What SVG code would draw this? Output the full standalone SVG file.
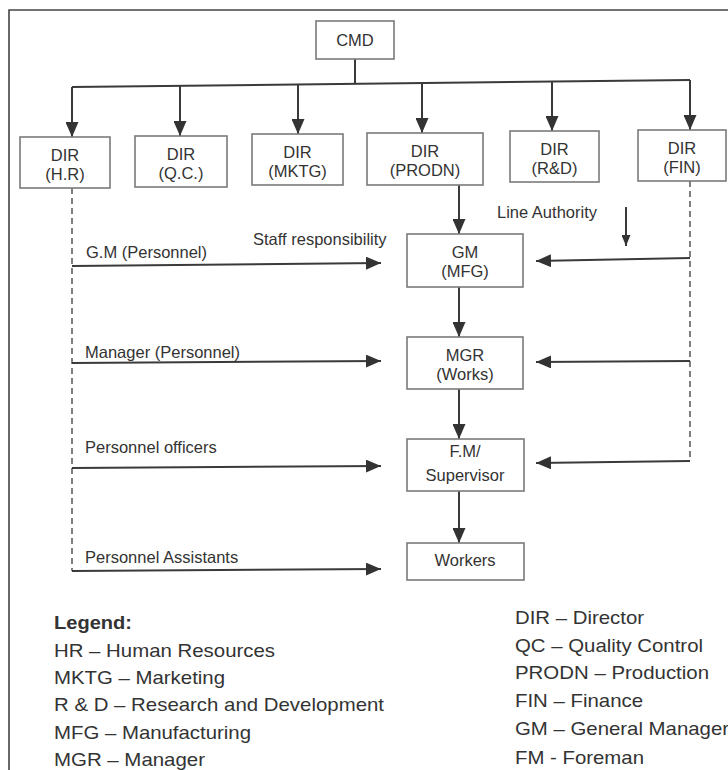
<svg xmlns="http://www.w3.org/2000/svg" width="728" height="770" viewBox="0 0 728 770">
  <style>
    .box { fill: #ffffff; stroke: #7a7a7a; stroke-width: 1.6; }
    .t { font-family: "Liberation Sans", Arial, sans-serif; font-size: 16.5px; fill: #333333; text-anchor: middle; }
    .lbl { font-family: "Liberation Sans", Arial, sans-serif; font-size: 16.5px; fill: #333333; }
    .leg { font-family: "Liberation Sans", Arial, sans-serif; font-size: 18.5px; fill: #333333; }
    .ln { fill: none; stroke: #3a3a3a; stroke-width: 2; }
    .dash { fill: none; stroke: #555555; stroke-width: 1.5; stroke-dasharray: 6 4; }
    .frame { fill: none; stroke: #444444; stroke-width: 1.6; }
  </style>
  <defs>
    <marker id="ah" markerUnits="userSpaceOnUse" markerWidth="15" markerHeight="13" refX="15" refY="6.5" orient="auto">
      <path d="M0,0 L15,6.5 L0,13 z" fill="#333333"/>
    </marker>
    <marker id="ahs" markerUnits="userSpaceOnUse" markerWidth="11" markerHeight="9" refX="11" refY="4.5" orient="auto">
      <path d="M0,0 L11,4.5 L0,9 z" fill="#333333"/>
    </marker>
  </defs>
  <rect width="728" height="770" fill="#ffffff"/>
  <path class="frame" d="M9,770 V10 H728"/>

  <g id="connectors">
    <path class="ln" d="M355,59 V84"/>
    <path class="ln" d="M72,87 L690,80"/>
    <path class="ln" d="M72,87 V137" marker-end="url(#ah)"/>
    <path class="ln" d="M180,86 V136" marker-end="url(#ah)"/>
    <path class="ln" d="M298,85 V134" marker-end="url(#ah)"/>
    <path class="ln" d="M422,83 V133" marker-end="url(#ah)"/>
    <path class="ln" d="M552,82 V131" marker-end="url(#ah)"/>
    <path class="ln" d="M690,80 V130" marker-end="url(#ah)"/>

    <path class="ln" d="M459,185 V234" marker-end="url(#ah)"/>
    <path class="ln" d="M459,287 V337" marker-end="url(#ah)"/>
    <path class="ln" d="M459,389 V439" marker-end="url(#ah)"/>
    <path class="ln" d="M459,491 V543" marker-end="url(#ah)"/>

    <path class="dash" d="M72,188 V571"/>
    <path class="dash" d="M690,181 V461"/>

    <path class="ln" d="M72,266 L381,263" marker-end="url(#ah)"/>
    <path class="ln" d="M72,363 L381,361" marker-end="url(#ah)"/>
    <path class="ln" d="M72,468 L381,466" marker-end="url(#ah)"/>
    <path class="ln" d="M72,571 L381,569" marker-end="url(#ah)"/>

    <path class="ln" d="M690,258 L536,261" marker-end="url(#ah)"/>
    <path class="ln" d="M690,361 L536,362" marker-end="url(#ah)"/>
    <path class="ln" d="M690,461 L536,463" marker-end="url(#ah)"/>

    <path class="ln" d="M626,207 V246" stroke-width="1.6" marker-end="url(#ahs)"/>
  </g>

  <g id="cmd">
    <rect class="box" x="316" y="21" width="78" height="38"/>
    <text class="t" x="355" y="46" font-size="14">CMD</text>
  </g>
  <g id="dir-hr">
    <rect class="box" x="20" y="137" width="90" height="51"/>
    <text class="t" x="65" y="161">DIR</text>
    <text class="t" x="65" y="180">(H.R)</text>
  </g>
  <g id="dir-qc">
    <rect class="box" x="135" y="136" width="92" height="51"/>
    <text class="t" x="181" y="160">DIR</text>
    <text class="t" x="181" y="179">(Q.C.)</text>
  </g>
  <g id="dir-mktg">
    <rect class="box" x="252" y="134" width="91" height="51"/>
    <text class="t" x="297.5" y="158">DIR</text>
    <text class="t" x="297.5" y="177">(MKTG)</text>
  </g>
  <g id="dir-prodn">
    <rect class="box" x="367" y="133" width="116" height="52"/>
    <text class="t" x="425" y="157">DIR</text>
    <text class="t" x="425" y="176">(PRODN)</text>
  </g>
  <g id="dir-rd">
    <rect class="box" x="510" y="131" width="89" height="51"/>
    <text class="t" x="554.5" y="155">DIR</text>
    <text class="t" x="554.5" y="174">(R&amp;D)</text>
  </g>
  <g id="dir-fin">
    <rect class="box" x="638" y="130" width="88" height="51"/>
    <text class="t" x="682" y="154">DIR</text>
    <text class="t" x="682" y="173">(FIN)</text>
  </g>
  <g id="gm">
    <rect class="box" x="407" y="234" width="116" height="53"/>
    <text class="t" x="465" y="258">GM</text>
    <text class="t" x="465" y="277">(MFG)</text>
  </g>
  <g id="mgr">
    <rect class="box" x="407" y="337" width="116" height="52"/>
    <text class="t" x="465" y="361">MGR</text>
    <text class="t" x="465" y="380">(Works)</text>
  </g>
  <g id="fm">
    <rect class="box" x="407" y="439" width="117" height="52"/>
    <text class="t" x="465" y="457">F.M/</text>
    <text class="t" x="465" y="481">Supervisor</text>
  </g>
  <g id="workers">
    <rect class="box" x="407" y="543" width="117" height="37"/>
    <text class="t" x="465" y="566">Workers</text>
  </g>

  <g id="labels">
    <text class="lbl" x="86" y="258">G.M (Personnel)</text>
    <text class="lbl" x="253" y="245">Staff responsibility</text>
    <text class="lbl" x="497" y="218">Line Authority</text>
    <text class="lbl" x="85" y="358">Manager (Personnel)</text>
    <text class="lbl" x="85" y="453">Personnel officers</text>
    <text class="lbl" x="85" y="563">Personnel Assistants</text>
  </g>

  <g id="legend">
    <text class="leg" x="54" y="629" font-weight="bold" textLength="78" lengthAdjust="spacingAndGlyphs">Legend:</text>
    <text class="leg" x="54" y="657" textLength="221" lengthAdjust="spacingAndGlyphs">HR – Human Resources</text>
    <text class="leg" x="54" y="684" textLength="171" lengthAdjust="spacingAndGlyphs">MKTG – Marketing</text>
    <text class="leg" x="54" y="711" textLength="330" lengthAdjust="spacingAndGlyphs">R &amp; D – Research and Development</text>
    <text class="leg" x="54" y="739" textLength="197" lengthAdjust="spacingAndGlyphs">MFG – Manufacturing</text>
    <text class="leg" x="54" y="766" textLength="151" lengthAdjust="spacingAndGlyphs">MGR – Manager</text>
    <text class="leg" x="515" y="624" textLength="129" lengthAdjust="spacingAndGlyphs">DIR – Director</text>
    <text class="leg" x="515" y="652" textLength="188" lengthAdjust="spacingAndGlyphs">QC – Quality Control</text>
    <text class="leg" x="515" y="679" textLength="194" lengthAdjust="spacingAndGlyphs">PRODN – Production</text>
    <text class="leg" x="515" y="707" textLength="128" lengthAdjust="spacingAndGlyphs">FIN – Finance</text>
    <text class="leg" x="515" y="735" textLength="214" lengthAdjust="spacingAndGlyphs">GM – General Manager</text>
    <text class="leg" x="515" y="764" textLength="129" lengthAdjust="spacingAndGlyphs">FM - Foreman</text>
  </g>
</svg>
